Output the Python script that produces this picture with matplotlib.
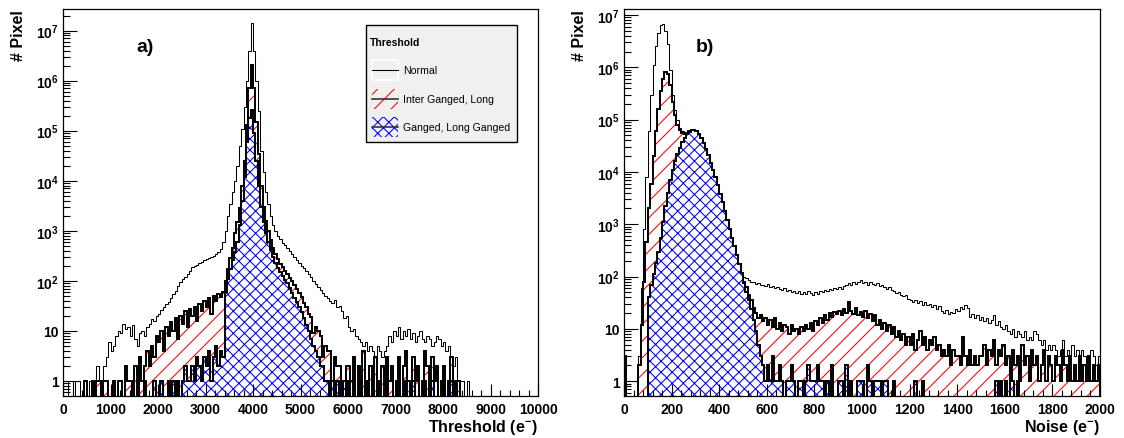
import numpy as np
import matplotlib
matplotlib.use("Agg")
import matplotlib.pyplot as plt
from matplotlib.ticker import MultipleLocator, FixedLocator, FuncFormatter, NullFormatter
from matplotlib.patches import Rectangle

plt.rcParams['font.family'] = ['Liberation Sans', 'DejaVu Sans']
plt.rcParams['font.weight'] = 'bold'
plt.rcParams['mathtext.fontset'] = 'custom'
plt.rcParams['mathtext.rm'] = 'Liberation Sans:bold'
plt.rcParams['mathtext.it'] = 'Liberation Sans:bold'
plt.rcParams['mathtext.bf'] = 'Liberation Sans:bold'
plt.rcParams['hatch.linewidth'] = 0.75

# ---------------- data: threshold (bin width 50 e, 0..10000) ----------------
thr_bin_width = 50
thr_range = (0, 10000)
thr_normal = [
    0, 0, 1, 1, 0, 1, 1, 0, 0, 1, 0, 1, 1, 0, 2, 1, 1, 2, 3, 6,
    4, 5, 8, 10, 9, 14, 11, 12, 8, 13, 7, 5, 9, 10, 8, 12, 14, 17, 16, 20,
    22, 26, 30, 35, 38, 45, 55, 62, 78, 95, 110, 120, 140, 160, 185, 200, 210, 225, 240, 255,
    270, 285, 300, 320, 350, 380, 430, 600, 1000, 2000, 3500, 6000, 1.0e4, 2.0e4, 5.0e4, 1.1e5, 3.0e5, 1.0e6, 4.0e6, 1.4e7,
    4.0e6, 1.0e6, 2.5e5, 4.0e4, 1.5e4, 6000, 3500, 2000, 1300, 1000, 800, 680, 580, 520, 450, 390, 340, 300, 260, 230,
    200, 180, 160, 140, 120, 100, 88, 75, 65, 58, 50, 45, 40, 36, 42, 30, 32, 25, 18, 20,
    12, 10, 11, 8, 7, 6, 5, 6, 4, 5, 4, 3, 5, 4, 3, 4, 5, 8, 6, 10,
    8, 12, 7, 10, 8, 11, 7, 9, 6, 8, 10, 7, 6, 8, 7, 5, 6, 8, 7, 5,
    6, 4, 5, 3, 2, 3, 1, 1, 1, 0, 1, 0, 0, 0, 0, 0, 0, 0, 0, 0,
    0, 0, 0, 0, 0, 0, 0, 0, 0, 0, 0, 0, 0, 0, 0, 0, 0, 0, 0, 0,
]
thr_inter = [
    0, 0, 0, 0, 0, 0, 0, 0, 0, 1, 0, 0, 1, 0, 1, 1, 0, 1, 1, 0,
    0, 1, 0, 1, 1, 0, 2, 1, 1, 0, 2, 1, 3, 1, 2, 4, 2, 5, 3, 8,
    6, 10, 4, 12, 8, 15, 10, 18, 7, 20, 14, 25, 12, 28, 20, 30, 16, 35, 25, 40,
    30, 45, 22, 50, 40, 55, 48, 60, 100, 170, 280, 450, 900, 1500, 2800, 8000, 2.5e4, 1.3e5, 7.0e5, 2.1e6,
    7.0e5, 1.5e5, 3.5e4, 8000, 3000, 1600, 1000, 650, 450, 340, 270, 220, 185, 160, 135, 115, 98, 84, 70, 58,
    48, 36, 30, 22, 19, 9, 12, 10, 8, 3, 5, 4, 4, 1, 3, 2, 2, 0, 1, 2,
    2, 1, 3, 0, 2, 1, 4, 1, 0, 2, 1, 3, 0, 1, 2, 0, 3, 1, 2, 0,
    1, 3, 0, 2, 4, 1, 0, 3, 1, 2, 0, 1, 4, 2, 0, 3, 1, 2, 0, 1,
    2, 0, 1, 3, 1, 0, 1, 0, 0, 0, 0, 0, 0, 0, 0, 0, 0, 0, 0, 0,
    0, 0, 0, 0, 0, 0, 0, 0, 0, 0, 0, 0, 0, 0, 0, 0, 0, 0, 0, 0,
]
thr_ganged = [
    0, 0, 0, 0, 0, 0, 0, 0, 0, 0, 0, 0, 0, 0, 0, 0, 0, 0, 0, 0,
    0, 0, 0, 0, 0, 0, 0, 0, 0, 0, 0, 1, 0, 0, 1, 0, 0, 0, 1, 0,
    0, 1, 0, 0, 1, 0, 1, 0, 1, 0, 1, 2, 1, 1, 2, 1, 3, 2, 1, 3,
    2, 4, 1, 3, 5, 2, 4, 3, 60, 110, 170, 260, 380, 600, 1300, 4000, 1.2e4, 6.0e4, 1.8e5, 2.6e5,
    9.0e4, 2.5e4, 8000, 3000, 1500, 900, 600, 420, 300, 230, 180, 150, 125, 105, 90, 72, 58, 46, 37, 30,
    24, 18, 13, 10, 7, 5, 4, 3, 2, 2, 1, 1, 0, 1, 0, 1, 0, 0, 1, 0,
    1, 0, 1, 0, 0, 1, 0, 1, 0, 0, 1, 0, 0, 1, 0, 0, 1, 0, 0, 0,
    0, 1, 0, 0, 1, 0, 0, 1, 0, 0, 0, 0, 1, 0, 0, 1, 0, 0, 0, 0,
    1, 0, 0, 1, 0, 0, 0, 0, 0, 0, 0, 0, 0, 0, 0, 0, 0, 0, 0, 0,
    0, 0, 0, 0, 0, 0, 0, 0, 0, 0, 0, 0, 0, 0, 0, 0, 0, 0, 0, 0,
]

# ---------------- data: noise (bin width 10 e, 0..2000) ----------------
noise_bin_width = 10
noise_range = (0, 2000)
noise_normal = [
    3, 1, 1, 1, 1, 1, 3, 60, 800, 8000, 6.0e4, 3.0e5, 1.1e6, 2.6e6, 4.5e6, 6.3e6, 6.7e6, 5.0e6, 2.8e6, 9.0e5,
    3.0e5, 1.5e5, 1.0e5, 7.0e4, 6.0e4, 5.6e4, 5.7e4, 6.0e4, 6.2e4, 6.2e4, 6.0e4, 5.3e4, 4.5e4, 3.6e4, 2.8e4, 2.1e4, 1.5e4, 1.1e4, 8000, 5500,
    3800, 2700, 1800, 1200, 800, 550, 380, 260, 170, 115, 100, 92, 85, 80, 78, 72, 75, 68, 70, 65,
    72, 62, 66, 60, 63, 58, 55, 60, 52, 56, 50, 54, 48, 52, 46, 50, 47, 52, 48, 45,
    50, 47, 53, 50, 55, 52, 58, 55, 60, 57, 62, 58, 66, 70, 75, 68, 80, 72, 78, 85,
    75, 80, 70, 78, 72, 68, 75, 65, 70, 62, 58, 63, 55, 52, 48, 50, 45, 42, 44, 38,
    36, 33, 35, 31, 34, 29, 32, 28, 30, 26, 28, 24, 27, 22, 20, 23, 19, 21, 20, 24,
    22, 26, 24, 29, 25, 17, 19, 16, 18, 15, 17, 14, 16, 13, 15, 18, 12, 14, 11, 10,
    12, 9, 8, 10, 7, 9, 8, 7, 9, 6, 7, 6, 9, 8, 6, 5, 6, 4, 5, 4,
    5, 4, 3, 4, 6, 3, 4, 3, 5, 3, 4, 3, 4, 3, 2, 3, 4, 3, 2, 3,
]
noise_inter = [
    3, 0, 0, 0, 0, 0, 2, 12, 80, 450, 2000, 6000, 2.0e4, 6.0e4, 1.6e5, 3.5e5, 6.0e5, 8.0e5, 7.5e5, 4.5e5,
    2.2e5, 1.2e5, 8.0e4, 6.2e4, 5.6e4, 5.4e4, 5.6e4, 6.0e4, 6.2e4, 6.2e4, 6.0e4, 5.3e4, 4.5e4, 3.6e4, 2.8e4, 2.1e4, 1.5e4, 1.1e4, 8000, 5500,
    3800, 2700, 1800, 1200, 800, 550, 380, 260, 170, 115, 80, 62, 45, 35, 25, 20, 16, 18, 14, 16,
    12, 15, 11, 16, 10, 13, 9, 12, 11, 8, 12, 9, 10, 8, 11, 9, 12, 10, 13, 9,
    14, 12, 16, 13, 18, 15, 20, 17, 21, 19, 22, 18, 24, 20, 33, 22, 19, 25, 18, 21,
    17, 22, 16, 19, 14, 18, 12, 15, 10, 13, 9, 12, 8, 11, 7, 9, 6, 8, 5, 7,
    5, 8, 4, 6, 9, 5, 7, 4, 6, 5, 7, 4, 5, 3, 4, 3, 5, 2, 4, 3,
    3, 2, 7, 3, 2, 4, 2, 3, 2, 3, 3, 5, 2, 4, 3, 6, 2, 4, 3, 5,
    2, 3, 1, 4, 2, 3, 1, 5, 2, 3, 1, 4, 2, 3, 1, 2, 4, 1, 3, 2,
    1, 3, 2, 1, 4, 2, 1, 3, 1, 2, 1, 3, 1, 2, 1, 3, 1, 2, 1, 2,
]
noise_ganged = [
    3, 0, 0, 0, 0, 0, 0, 0, 0, 0, 40, 70, 110, 180, 300, 550, 1100, 2200, 4000, 7000,
    1.1e4, 1.6e4, 2.2e4, 2.9e4, 3.7e4, 4.5e4, 5.3e4, 5.9e4, 6.2e4, 6.2e4, 6.0e4, 5.3e4, 4.5e4, 3.6e4, 2.8e4, 2.1e4, 1.5e4, 1.1e4, 8000, 5500,
    3800, 2700, 1800, 1200, 800, 550, 380, 260, 170, 115, 75, 50, 35, 24, 15, 9, 5, 3, 2, 1,
    2, 1, 3, 1, 1, 2, 1, 0, 1, 1, 2, 1, 0, 1, 1, 0, 1, 2, 1, 1,
    1, 2, 1, 1, 0, 1, 0, 2, 0, 0, 1, 1, 0, 2, 0, 1, 0, 0, 1, 1,
    1, 0, 2, 1, 0, 1, 1, 1, 0, 1, 1, 0, 0, 1, 0, 0, 0, 0, 0, 0,
    0, 0, 1, 0, 0, 1, 0, 0, 0, 0, 0, 0, 0, 0, 0, 0, 0, 0, 0, 0,
    0, 0, 0, 0, 0, 0, 0, 0, 0, 0, 0, 0, 0, 0, 0, 0, 1, 0, 1, 0,
    1, 0, 1, 1, 0, 1, 0, 0, 0, 0, 0, 0, 0, 0, 0, 0, 0, 0, 0, 0,
    0, 0, 0, 0, 0, 0, 0, 0, 0, 0, 0, 0, 0, 0, 0, 0, 0, 0, 0, 0,
]

y_decades = [1, 10, 1e2, 1e3, 1e4, 1e5, 1e6, 1e7]
legend_title = "Threshold"
legend_labels = ["Normal", "Inter Ganged, Long", "Ganged, Long Ganged"]

FLOOR = 1e-3
RED_HATCH = '//'
BLUE_HATCH = 'xxx'
THIN = 0.75
THICK = 1.4


def draw_hist(ax, edges, vals, lw, hatch=None, hcolor=None):
    v = np.asarray(vals, dtype=float)
    v = np.where(v > 0, v, FLOOR)
    if hatch is not None:
        ax.stairs(v, edges, baseline=FLOOR, fill=True, facecolor='white',
                  edgecolor=hcolor, hatch=hatch, linewidth=0)
    ax.stairs(v, edges, baseline=FLOOR, color='black', linewidth=lw)


def ytick_fmt(v, pos):
    e = int(round(np.log10(v)))
    if e == 0:
        return '1'
    if e == 1:
        return '10'
    return r'$10^{%d}$' % e


def style_axes(ax, xmaj, xmin, ylim, xlabel):
    ax.set_yscale('log')
    ax.set_ylim(*ylim)
    ax.xaxis.set_major_locator(MultipleLocator(xmaj))
    ax.xaxis.set_minor_locator(MultipleLocator(xmin))
    majors = [d for d in y_decades if ylim[0] <= d <= ylim[1]]
    minors = [d * k for d in [0.1] + y_decades for k in range(2, 10)
              if ylim[0] <= d * k <= ylim[1]]
    ax.yaxis.set_major_locator(FixedLocator(majors))
    ax.yaxis.set_minor_locator(FixedLocator(minors))
    ax.yaxis.set_major_formatter(FuncFormatter(ytick_fmt))
    ax.yaxis.set_minor_formatter(NullFormatter())
    ax.tick_params(which='both', direction='in', top=False, right=False, width=0.8)
    ax.tick_params(axis='x', which='major', length=8.5, pad=4, labelsize=10)
    ax.tick_params(axis='x', which='minor', length=4.2)
    ax.tick_params(axis='y', which='major', length=10, pad=3, labelsize=10)
    ax.tick_params(axis='y', which='minor', length=5)
    for s in ax.spines.values():
        s.set_linewidth(0.9)
    ax.set_xlabel(xlabel, fontsize=11.5, fontweight='bold', loc='right')
    ax.xaxis.label.set_verticalalignment('center')
    ax.xaxis.set_label_coords(1.0, -0.08)
    ax.set_ylabel('# Pixel', fontsize=11.5, fontweight='bold', loc='top')
    ax.yaxis.label.set_verticalalignment('center')
    ax.yaxis.set_label_coords(-0.094, 1.0)


fig = plt.figure(figsize=(11.24, 4.39), dpi=100)
ax1 = fig.add_axes([63 / 1124, 42 / 439, 475 / 1124, 387 / 439])
ax2 = fig.add_axes([624 / 1124, 42 / 439, 476 / 1124, 387 / 439])

thr_edges = np.arange(thr_range[0], thr_range[1] + thr_bin_width, thr_bin_width)
noise_edges = np.arange(noise_range[0], noise_range[1] + noise_bin_width, noise_bin_width)

for ax, edges, n, i, g in [(ax1, thr_edges, thr_normal, thr_inter, thr_ganged),
                           (ax2, noise_edges, noise_normal, noise_inter, noise_ganged)]:
    draw_hist(ax, edges, n, THIN)
    draw_hist(ax, edges, i, THICK, hatch=RED_HATCH, hcolor='red')
    draw_hist(ax, edges, g, THICK, hatch=BLUE_HATCH, hcolor='blue')

style_axes(ax1, 1000, 200, (0.5, 2.7e7), r'Threshold (e$^{-}$)')
style_axes(ax2, 200, 40, (0.52, 1.3e7), r'Noise (e$^{-}$)')

ax1.text(0.173, 0.902, 'a)', transform=ax1.transAxes, fontsize=14, fontweight='bold',
         ha='center', va='center')
ax2.text(0.17, 0.902, 'b)', transform=ax2.transAxes, fontsize=14, fontweight='bold',
         ha='center', va='center')

# ---------------- legend (ROOT-style box) ----------------
T = ax1.transAxes
box_x, box_y, box_w, box_h = 0.638, 0.656, 0.318, 0.302
ax1.add_patch(Rectangle((box_x, box_y), box_w, box_h, transform=T, facecolor='#f0f0f0',
                        edgecolor='black', lw=1.0, zorder=10))
ax1.text(0.646, 0.9155, legend_title, transform=T, fontsize=7.5, fontweight='bold',
         ha='left', va='center', zorder=12)
row_y = [0.8416, 0.7674, 0.6951]
hx0, hx1, hh = 0.6499, 0.706, 0.0517
styles = [(None, None), (RED_HATCH, 'red'), (BLUE_HATCH, 'blue')]
for (hatch, hc), y, lab in zip(styles, row_y, legend_labels):
    if hatch is None:
        ax1.add_patch(Rectangle((hx0, y - hh / 2), hx1 - hx0, hh, transform=T,
                                facecolor='none', edgecolor='white', lw=1.2, zorder=11))
        ax1.plot([hx0, hx1], [y, y], transform=T, color='black', lw=THIN, zorder=12,
                 scalex=False, scaley=False)
    else:
        ax1.add_patch(Rectangle((hx0, y - hh / 2), hx1 - hx0, hh, transform=T,
                                facecolor='none', edgecolor=hc, hatch=hatch, lw=0, zorder=11))
        ax1.plot([hx0, hx1], [y, y], transform=T, color='#333333', lw=1.2, zorder=12,
                 scalex=False, scaley=False)
    ax1.text(0.716, y, lab, transform=T, fontsize=7.6, fontweight='normal',
             ha='left', va='center', zorder=12)

ax1.set_xlim(thr_range)
ax2.set_xlim(noise_range)

fig.savefig('out.png', dpi=100)
